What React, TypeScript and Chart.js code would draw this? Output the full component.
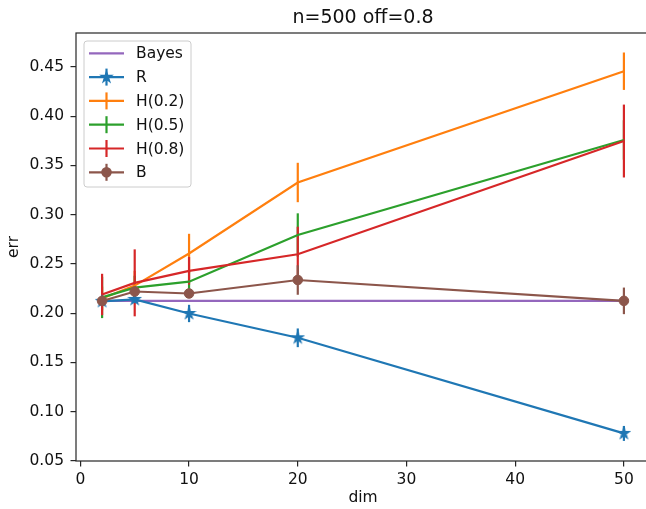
import React, { useEffect, useRef } from 'react';
import { Chart, registerables } from 'chart.js';
Chart.register(...registerables);

const dims = [2, 5, 10, 20, 50];
const xTicks = [0, 10, 20, 30, 40, 50];
const yTicks = [0.05, 0.1, 0.15, 0.2, 0.25, 0.3, 0.35, 0.4, 0.45];

const bayesVals = [0.2125, 0.2125, 0.2125, 0.2125, 0.2125];
const rVals = [0.212, 0.214, 0.1997, 0.175, 0.0779];
const rErr = [0.003, 0.004, 0.0088, 0.0095, 0.0076];
const h02Vals = [0.215, 0.228, 0.2606, 0.3327, 0.4457];
const h02Err = [0.012, 0.015, 0.02, 0.02, 0.019];
const h05Vals = [0.216, 0.226, 0.232, 0.2794, 0.3759];
const h05Err = [0.021, 0.012, 0.012, 0.022, 0.02];
const h08Vals = [0.219, 0.2308, 0.243, 0.2598, 0.3748];
const h08Err = [0.021, 0.034, 0.014, 0.028, 0.037];
const bVals = [0.2124, 0.222, 0.22, 0.2337, 0.2125];
const bErr = [0.004, 0.006, 0.004, 0.015, 0.0135];

const FONT = "'DejaVu Sans', sans-serif";

type Series = { label: string; vals: number[]; err: number[] | null; color: string; marker: 'none' | 'star' | 'circle' };

const series: Series[] = [
  { label: 'Bayes', vals: bayesVals, err: null, color: '#9467bd', marker: 'none' },
  { label: 'R', vals: rVals, err: rErr, color: '#1f77b4', marker: 'star' },
  { label: 'H(0.2)', vals: h02Vals, err: h02Err, color: '#ff7f0e', marker: 'none' },
  { label: 'H(0.5)', vals: h05Vals, err: h05Err, color: '#2ca02c', marker: 'none' },
  { label: 'H(0.8)', vals: h08Vals, err: h08Err, color: '#d62728', marker: 'none' },
  { label: 'B', vals: bVals, err: bErr, color: '#8c564b', marker: 'circle' },
];

function starPath(ctx: CanvasRenderingContext2D, cx: number, cy: number, R: number) {
  const r = R * 0.382;
  ctx.beginPath();
  for (let i = 0; i < 10; i++) {
    const rad = i % 2 === 0 ? R : r;
    const a = -Math.PI / 2 + (i * Math.PI) / 5;
    const px = cx + rad * Math.cos(a);
    const py = cy + rad * Math.sin(a);
    if (i === 0) ctx.moveTo(px, py);
    else ctx.lineTo(px, py);
  }
  ctx.closePath();
}

function drawStar(ctx: CanvasRenderingContext2D, cx: number, cy: number, R: number, color: string) {
  ctx.save();
  starPath(ctx, cx, cy, R);
  ctx.fillStyle = color;
  ctx.strokeStyle = color;
  ctx.lineWidth = 1.4;
  ctx.lineJoin = 'miter';
  ctx.fill();
  ctx.stroke();
  ctx.restore();
}

function makeStarCanvas(color: string, R: number) {
  const c = document.createElement('canvas');
  const s = Math.ceil(R * 2 + 4);
  c.width = s;
  c.height = s;
  const ctx = c.getContext('2d')!;
  drawStar(ctx, s / 2, s / 2, R, color);
  return c;
}

const LW = 2.2;

export default function App() {
  const ref = useRef<HTMLCanvasElement>(null);

  useEffect(() => {
    const canvas = ref.current!;
    const starCanvas = makeStarCanvas('#1f77b4', 5.5);

    const datasets = series.map((s, idx) => ({
      label: s.label,
      data: dims.map((d, i) => ({ x: d, y: s.vals[i] })),
      borderColor: s.color,
      backgroundColor: s.color,
      borderWidth: LW,
      showLine: true,
      tension: 0,
      fill: false,
      order: 20 - idx,
      pointRadius: s.marker === 'none' ? 0 : s.marker === 'circle' ? 4.8 : 6,
      pointBorderWidth: s.marker === 'circle' ? 1 : 0,
      pointStyle: s.marker === 'star' ? (starCanvas as any) : 'circle',
      pointBackgroundColor: s.color,
      pointBorderColor: s.color,
    }));

    const decor = {
      id: 'decor',
      beforeDatasetsDraw(chart: any) {
        const ctx = chart.ctx as CanvasRenderingContext2D;
        const xs = chart.scales.x;
        const ys = chart.scales.y;
        series.forEach((s) => {
          if (!s.err) return;
          ctx.save();
          ctx.strokeStyle = s.color;
          ctx.lineWidth = LW;
          dims.forEach((d, i) => {
            const px = xs.getPixelForValue(d);
            ctx.beginPath();
            ctx.moveTo(px, ys.getPixelForValue(s.vals[i] + s.err![i]));
            ctx.lineTo(px, ys.getPixelForValue(s.vals[i] - s.err![i]));
            ctx.stroke();
          });
          ctx.restore();
        });
      },
      afterDatasetsDraw(chart: any) {
        const ctx = chart.ctx as CanvasRenderingContext2D;
        const a = chart.chartArea;
        ctx.save();
        ctx.strokeStyle = '#262626';
        ctx.lineWidth = 1.2;
        ctx.strokeRect(a.left, a.top, a.right - a.left, a.bottom - a.top);
        ctx.restore();
      },
      afterDraw(chart: any) {
        const ctx = chart.ctx as CanvasRenderingContext2D;
        const a = chart.chartArea;
        const cx = (a.left + a.right) / 2;
        const cy = (a.top + a.bottom) / 2;
        ctx.save();
        ctx.fillStyle = '#111';
        ctx.textAlign = 'center';
        ctx.textBaseline = 'alphabetic';
        ctx.font = `19px ${FONT}`;
        ctx.fillText('n=500 off=0.8', cx, 23);
        ctx.font = `15.5px ${FONT}`;
        ctx.textBaseline = 'middle';
        ctx.fillText('dim', cx, 498);
        ctx.save();
        ctx.translate(14, cy);
        ctx.rotate(-Math.PI / 2);
        ctx.fillText('err', 0, 0);
        ctx.restore();

        // legend
        const x0 = 84, y0 = 41, w = 107, h = 146, rr = 3;
        ctx.beginPath();
        ctx.moveTo(x0 + rr, y0);
        ctx.lineTo(x0 + w - rr, y0);
        ctx.arcTo(x0 + w, y0, x0 + w, y0 + rr, rr);
        ctx.lineTo(x0 + w, y0 + h - rr);
        ctx.arcTo(x0 + w, y0 + h, x0 + w - rr, y0 + h, rr);
        ctx.lineTo(x0 + rr, y0 + h);
        ctx.arcTo(x0, y0 + h, x0, y0 + h - rr, rr);
        ctx.lineTo(x0, y0 + rr);
        ctx.arcTo(x0, y0, x0 + rr, y0, rr);
        ctx.closePath();
        ctx.fillStyle = 'rgba(255,255,255,0.8)';
        ctx.fill();
        ctx.strokeStyle = '#cccccc';
        ctx.lineWidth = 1;
        ctx.stroke();

        series.forEach((s, i) => {
          const y = 53.3 + i * 23.8;
          const hx0 = 89, hx1 = 124, hm = (hx0 + hx1) / 2;
          ctx.strokeStyle = s.color;
          ctx.lineWidth = LW;
          ctx.beginPath();
          ctx.moveTo(hx0, y);
          ctx.lineTo(hx1, y);
          ctx.stroke();
          if (s.err) {
            ctx.beginPath();
            ctx.moveTo(hm, y - 8.5);
            ctx.lineTo(hm, y + 8.5);
            ctx.stroke();
          }
          if (s.marker === 'star') drawStar(ctx, hm, y, 5.5, s.color);
          if (s.marker === 'circle') {
            ctx.beginPath();
            ctx.arc(hm, y, 5.3, 0, Math.PI * 2);
            ctx.fillStyle = s.color;
            ctx.fill();
          }
          ctx.fillStyle = '#111';
          ctx.textAlign = 'left';
          ctx.textBaseline = 'middle';
          ctx.font = `15.5px ${FONT}`;
          ctx.fillText(s.label, 136, y + 1);
        });
        ctx.restore();
      },
    };

    const chart = new Chart(canvas, {
      type: 'line',
      data: { datasets: datasets as any },
      options: {
        animation: false,
        responsive: false,
        devicePixelRatio: 1,
        events: [],
        layout: { padding: { top: 33, right: 10, left: 0, bottom: 0 } },
        plugins: { legend: { display: false }, title: { display: false }, tooltip: { enabled: false } },
        scales: {
          x: {
            type: 'linear',
            min: -0.4,
            max: 52.4,
            afterBuildTicks: (scale: any) => {
              scale.ticks = xTicks.map((v) => ({ value: v }));
            },
            afterFit: (scale: any) => {
              scale.height = 48;
            },
            ticks: {
              autoSkip: false,
              maxRotation: 0,
              padding: 4.5,
              color: '#111',
              font: { family: FONT, size: 15.5 },
              callback: (v: any) => String(v),
            },
            grid: { drawOnChartArea: false, drawTicks: true, tickLength: 5.5, color: '#262626', lineWidth: 1.2 },
            border: { display: false },
          },
          y: {
            type: 'linear',
            min: 0.0499,
            max: 0.4845,
            afterBuildTicks: (scale: any) => {
              scale.ticks = yTicks.map((v) => ({ value: v }));
            },
            afterFit: (scale: any) => {
              scale.width = 76;
            },
            ticks: {
              autoSkip: false,
              padding: 6.5,
              color: '#111',
              font: { family: FONT, size: 15.5 },
              callback: (v: any) => Number(v).toFixed(2),
            },
            grid: { drawOnChartArea: false, drawTicks: true, tickLength: 5.5, color: '#262626', lineWidth: 1.2 },
            border: { display: false },
          },
        },
      },
      plugins: [decor as any],
    });
    return () => chart.destroy();
  }, []);

  return (
    <div style={{ position: 'absolute', left: 0, top: 0, width: 646, height: 509, overflow: 'hidden', background: '#fff' }}>
      <canvas ref={ref} width={660} height={509} style={{ display: 'block', width: 660, height: 509 }} />
    </div>
  );
}
